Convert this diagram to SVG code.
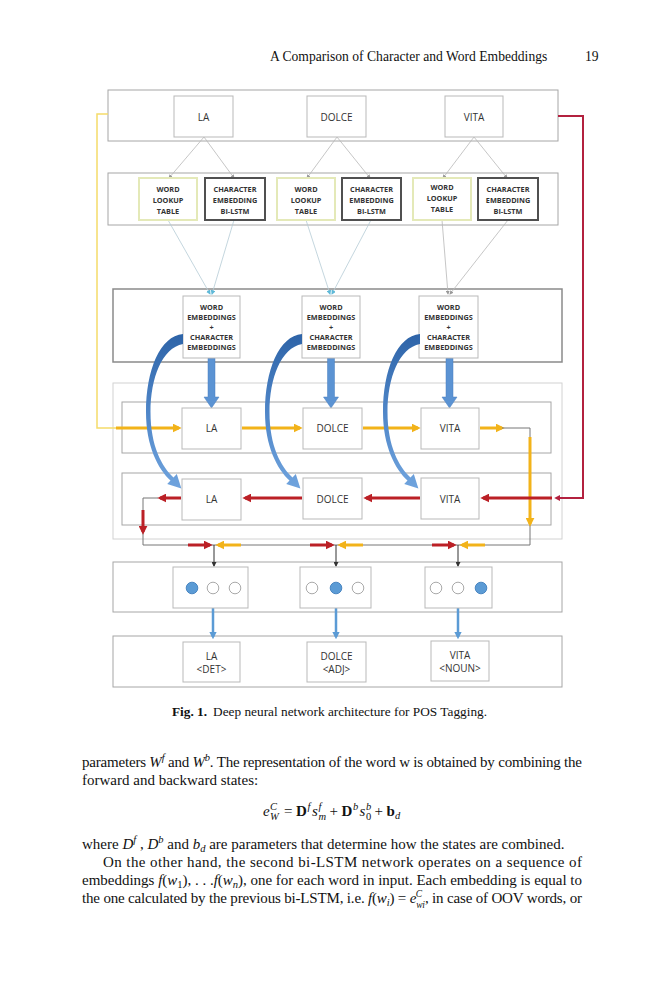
<svg xmlns="http://www.w3.org/2000/svg" width="659" height="1000" viewBox="0 0 659 1000">
<defs>
<style>
.ob{fill:none;stroke:#a6a6a6;stroke-width:1}
.oe{fill:none;stroke:#8a8a8a;stroke-width:1.5}
.ol{fill:none;stroke:#d2d2d2;stroke-width:1}
.ib{fill:#fff;stroke:#b9b9b9;stroke-width:1}
.wl{fill:#fff;stroke:#e4e9b8;stroke-width:2}
.ce{fill:#fff;stroke:#505050;stroke-width:2}
.t{font-family:"Open Sans","DejaVu Sans",sans-serif;font-size:10px;fill:#333;text-anchor:middle}
.s{font-family:"Open Sans","DejaVu Sans",sans-serif;font-size:7.3px;font-weight:bold;fill:#333;text-anchor:middle}
.y{fill:none;stroke:#f2b31a;stroke-width:3;marker-end:url(#ay)}
.r{fill:none;stroke:#bb2026;stroke-width:3;marker-end:url(#ar)}
.g{fill:none;stroke:#777;stroke-width:1}
.k{fill:none;stroke:#333;stroke-width:1;marker-end:url(#ak)}
.bl{fill:none;stroke:#5b9bd5;stroke-width:2.5;marker-end:url(#ab)}
.ln{fill:none;stroke:#b8b8b8;stroke-width:0.8;marker-end:url(#ag)}
.lc{fill:none;stroke:#b5cbd6;stroke-width:0.8;marker-end:url(#ac)}
.sf{font-family:"Liberation Serif","Times New Roman",serif;fill:#111}
.c0{fill:#fff;stroke:#aaa;stroke-width:1}
.c1{fill:#5b9bd5;stroke:#4a86c2;stroke-width:1}
.bd{fill:#5b93d3;stroke:#4a7fbf;stroke-width:0.5}
</style>
<marker id="ay" viewBox="0 0 10 10" refX="7" refY="5" markerWidth="3" markerHeight="3" orient="auto"><path d="M0,0 L10,5 L0,10 Z" fill="#f2b31a"/></marker>
<marker id="ar" viewBox="0 0 10 10" refX="7" refY="5" markerWidth="3" markerHeight="3" orient="auto"><path d="M0,0 L10,5 L0,10 Z" fill="#bb2026"/></marker>
<marker id="acr" viewBox="0 0 10 10" refX="7" refY="5" markerWidth="3" markerHeight="3" orient="auto"><path d="M0,0 L10,5 L0,10 Z" fill="#b3213f"/></marker>
<marker id="ak" viewBox="0 0 10 10" refX="8" refY="5" markerWidth="5" markerHeight="5" orient="auto"><path d="M0,0 L10,5 L0,10 Z" fill="#333"/></marker>
<marker id="ab" viewBox="0 0 10 10" refX="7" refY="5" markerWidth="3" markerHeight="3" orient="auto"><path d="M0,0 L10,5 L0,10 Z" fill="#5b9bd5"/></marker>
<marker id="ag" viewBox="0 0 10 10" refX="8" refY="5" markerWidth="5" markerHeight="5" orient="auto"><path d="M0,0 L10,5 L0,10 Z" fill="#999"/></marker>
<marker id="ac" viewBox="0 0 10 10" refX="8" refY="5" markerWidth="6" markerHeight="6" orient="auto"><path d="M0,0 L10,5 L0,10 Z" fill="#5fb9d8"/></marker>
<linearGradient id="cg" gradientUnits="userSpaceOnUse" x1="0" y1="335" x2="0" y2="490">
<stop offset="0" stop-color="#2e64a8"/><stop offset="0.5" stop-color="#4f86c8"/><stop offset="1" stop-color="#70a4de"/>
</linearGradient>
<path id="curve" d="M183,334 C160,336 146,370 146,412 C146,446 158,469 170.5,480.6 L167.2,484 L181.4,488.5 L176.8,474 L173.5,477.4 C162,467 150.5,446 150.5,412 C150.5,378 162,348 183,344 Z" fill="url(#cg)"/>
</defs>
<rect width="659" height="1000" fill="#fff"/>

<g id="header">
<text class="sf" x="270" y="61" font-size="13.6">A Comparison of Character and Word Embeddings</text>
<text class="sf" x="585" y="61" font-size="13.6">19</text>
</g>

<g id="frames">
<rect class="ob" x="108" y="90" width="450" height="51"/>
<rect class="ob" x="108" y="173" width="450" height="52"/>
<rect class="oe" x="113" y="289" width="449" height="73"/>
<rect class="ol" x="113" y="383" width="449" height="156"/>
<rect class="ob" x="122" y="402" width="429" height="51"/>
<rect class="ob" x="122" y="473" width="429" height="52"/>
<rect class="ob" x="113" y="562" width="449" height="50"/>
<rect class="ob" x="113" y="636" width="449" height="51"/>
</g>

<g id="connectors">
<path class="ln" d="M204,137 L169,178"/>
<path class="ln" d="M204,137 L234,178"/>
<path class="ln" d="M337,137 L307,178"/>
<path class="ln" d="M337,137 L370,178"/>
<path class="ln" d="M474,137 L443,178"/>
<path class="ln" d="M474,137 L507,178"/>
<path class="lc" d="M168,220 L210,294"/>
<path class="lc" d="M234,220 L212,294"/>
<path class="lc" d="M306,220 L330,294"/>
<path class="lc" d="M371,220 L332,294"/>
<path class="ln" d="M442,220 L448,294"/>
<path class="ln" d="M508,220 L450,294"/>
<path class="bd" d="M208,358 V397 H204 L211.5,408 L219,397 H215 V358 Z"/>
<path class="bd" d="M327.5,358 V397 H323.5 L331,408 L338.5,397 H334.5 V358 Z"/>
<path class="bd" d="M446,358 V397 H442 L449.5,408 L457,397 H453 V358 Z"/>
<path fill="none" stroke="#f5dc6a" stroke-width="1.5" d="M108,114 H97 V428 H117"/>
<path class="y" d="M116,428 H179"/>
<path class="y" d="M242,428 H300"/>
<path class="y" d="M363,428 H418"/>
<path class="y" d="M480,428 H502"/>
<path class="g" d="M502,428 H530 V545"/>
<path class="y" d="M530,437 V524"/>
<path fill="none" stroke="#b3213f" stroke-width="2" marker-end="url(#acr)" d="M558,116 H583 V498 H556"/>
<path class="r" d="M552,498 H483"/>
<path class="r" d="M420,498 H366"/>
<path class="r" d="M302,498 H245"/>
<path class="r" d="M181,498 H160"/>
<path class="g" d="M158,498 H143 V545 H530"/>
<path class="r" d="M143,510 V532"/>
<path class="r" d="M188,545 H210"/>
<path class="y" d="M241,545 H218"/>
<path class="r" d="M310,545 H332"/>
<path class="y" d="M363,545 H340"/>
<path class="r" d="M432,545 H454"/>
<path class="y" d="M485,545 H462"/>
<path class="k" d="M214,545 V566"/>
<path class="k" d="M336,545 V566"/>
<path class="k" d="M458,545 V566"/>
<path class="bl" d="M213,608 V637"/>
<path class="bl" d="M336,608 V637"/>
<path class="bl" d="M458,608 V637"/>
</g>

<g id="n-la"><rect class="ib" x="174" y="96" width="59" height="41"/><text class="t" x="203.5" y="120.5">LA</text></g>
<g id="n-dolce"><rect class="ib" x="307" y="96" width="59" height="41"/><text class="t" x="336.5" y="120.5">DOLCE</text></g>
<g id="n-vita"><rect class="ib" x="445" y="96" width="58" height="41"/><text class="t" x="474" y="120.5">VITA</text></g>

<g id="n-wl1"><rect class="wl" x="139" y="178" width="58" height="42"/><text class="s" x="168" y="192">WORD</text><text class="s" x="168" y="203">LOOKUP</text><text class="s" x="168" y="214">TABLE</text></g>
<g id="n-ce1"><rect class="ce" x="205" y="178" width="60" height="42"/><text class="s" x="235" y="192">CHARACTER</text><text class="s" x="235" y="203">EMBEDDING</text><text class="s" x="235" y="214">BI-LSTM</text></g>
<g id="n-wl2"><rect class="wl" x="277" y="178" width="58" height="42"/><text class="s" x="306" y="192">WORD</text><text class="s" x="306" y="203">LOOKUP</text><text class="s" x="306" y="214">TABLE</text></g>
<g id="n-ce2"><rect class="ce" x="342" y="178" width="59" height="42"/><text class="s" x="371.5" y="192">CHARACTER</text><text class="s" x="371.5" y="203">EMBEDDING</text><text class="s" x="371.5" y="214">BI-LSTM</text></g>
<g id="n-wl3"><rect class="wl" x="413" y="178" width="58" height="42"/><text class="s" x="442" y="190">WORD</text><text class="s" x="442" y="201">LOOKUP</text><text class="s" x="442" y="212">TABLE</text></g>
<g id="n-ce3"><rect class="ce" x="478" y="178" width="60" height="42"/><text class="s" x="508" y="192">CHARACTER</text><text class="s" x="508" y="203">EMBEDDING</text><text class="s" x="508" y="214">BI-LSTM</text></g>

<g id="n-emb1"><rect class="ib" x="183" y="296" width="57" height="62"/><text class="s" x="211.5" y="310">WORD</text><text class="s" x="211.5" y="320">EMBEDDINGS</text><text class="s" x="211.5" y="330">+</text><text class="s" x="211.5" y="340">CHARACTER</text><text class="s" x="211.5" y="350">EMBEDDINGS</text></g>
<g id="n-emb2"><rect class="ib" x="302" y="296" width="58" height="62"/><text class="s" x="331" y="310">WORD</text><text class="s" x="331" y="320">EMBEDDINGS</text><text class="s" x="331" y="330">+</text><text class="s" x="331" y="340">CHARACTER</text><text class="s" x="331" y="350">EMBEDDINGS</text></g>
<g id="n-emb3"><rect class="ib" x="419" y="296" width="59" height="62"/><text class="s" x="448.5" y="310">WORD</text><text class="s" x="448.5" y="320">EMBEDDINGS</text><text class="s" x="448.5" y="330">+</text><text class="s" x="448.5" y="340">CHARACTER</text><text class="s" x="448.5" y="350">EMBEDDINGS</text></g>

<g id="n-fla"><rect class="ib" x="182" y="408" width="59" height="41"/><text class="t" x="211.5" y="431.5">LA</text></g>
<g id="n-fdolce"><rect class="ib" x="303" y="408" width="59" height="41"/><text class="t" x="332.5" y="431.5">DOLCE</text></g>
<g id="n-fvita"><rect class="ib" x="421" y="408" width="58" height="41"/><text class="t" x="450" y="431.5">VITA</text></g>
<g id="n-bla"><rect class="ib" x="182" y="479" width="59" height="41"/><text class="t" x="211.5" y="502.5">LA</text></g>
<g id="n-bdolce"><rect class="ib" x="303" y="478" width="59" height="41"/><text class="t" x="332.5" y="502.5">DOLCE</text></g>
<g id="n-bvita"><rect class="ib" x="421" y="478" width="58" height="41"/><text class="t" x="450" y="502.5">VITA</text></g>

<g id="curves">
<use href="#curve"/>
<use href="#curve" transform="translate(119,0)"/>
<use href="#curve" transform="translate(237,0)"/>
</g>

<g id="n-out1"><rect class="ib" x="173" y="567" width="75" height="41"/><circle class="c1" cx="192" cy="588" r="5.8"/><circle class="c0" cx="213" cy="588" r="5.8"/><circle class="c0" cx="235" cy="588" r="5.8"/></g>
<g id="n-out2"><rect class="ib" x="300" y="567" width="71" height="41"/><circle class="c0" cx="312" cy="588" r="5.8"/><circle class="c1" cx="336" cy="588" r="5.8"/><circle class="c0" cx="358" cy="588" r="5.8"/></g>
<g id="n-out3"><rect class="ib" x="425" y="567" width="67" height="41"/><circle class="c0" cx="436" cy="588" r="5.8"/><circle class="c0" cx="458" cy="588" r="5.8"/><circle class="c1" cx="481" cy="588" r="5.8"/></g>

<g id="n-tla"><rect class="ib" x="183" y="642" width="57" height="40"/><text class="t" x="211.5" y="659.5">LA</text><text class="t" x="211.5" y="672.5">&lt;DET&gt;</text></g>
<g id="n-tdolce"><rect class="ib" x="307" y="642" width="59" height="40"/><text class="t" x="336.5" y="659.5">DOLCE</text><text class="t" x="336.5" y="672.5">&lt;ADJ&gt;</text></g>
<g id="n-tvita"><rect class="ib" x="431" y="641" width="58" height="40"/><text class="t" x="460" y="658.5">VITA</text><text class="t" x="460" y="671.5">&lt;NOUN&gt;</text></g>

<g id="caption">
<text class="sf" x="172" y="716" font-size="13.3"><tspan font-weight="bold">Fig. 1.</tspan><tspan dx="6">Deep neural network architecture for POS Tagging.</tspan></text>
</g>

<g id="body">
<text class="sf" x="82" y="767" font-size="15" textLength="500" lengthAdjust="spacing">parameters <tspan font-style="italic">W</tspan><tspan font-size="10.5" font-style="italic" dy="-6">f</tspan><tspan dy="6"> and </tspan><tspan font-style="italic">W</tspan><tspan font-size="10.5" font-style="italic" dy="-6">b</tspan><tspan dy="6">. The representation of the word w is obtained by combining the</tspan></text>
<text class="sf" x="82" y="785" font-size="15">forward and backward states:</text>

<text class="sf" x="263" y="816" font-size="15" font-style="italic">e</text>
<text class="sf" x="270" y="810" font-size="10.5" font-style="italic">C</text>
<text class="sf" x="270" y="820" font-size="10.5" font-style="italic">W</text>
<text class="sf" x="284" y="816" font-size="15">=</text>
<text class="sf" x="296" y="816" font-size="15" font-weight="bold">D</text>
<text class="sf" x="307.5" y="810" font-size="10.5" font-style="italic">f</text>
<text class="sf" x="312" y="816" font-size="15" font-style="italic">s</text>
<text class="sf" x="318.5" y="810" font-size="10.5" font-style="italic">f</text>
<text class="sf" x="318.5" y="820" font-size="10.5" font-style="italic">m</text>
<text class="sf" x="329.5" y="816" font-size="15">+</text>
<text class="sf" x="341.5" y="816" font-size="15" font-weight="bold">D</text>
<text class="sf" x="353" y="810" font-size="10.5" font-style="italic">b</text>
<text class="sf" x="359.5" y="816" font-size="15" font-style="italic">s</text>
<text class="sf" x="366" y="810" font-size="10.5" font-style="italic">b</text>
<text class="sf" x="366" y="820" font-size="10.5">0</text>
<text class="sf" x="374.5" y="816" font-size="15">+</text>
<text class="sf" x="386.5" y="816" font-size="15" font-weight="bold">b</text>
<text class="sf" x="395" y="819" font-size="10.5" font-style="italic">d</text>

<text class="sf" x="82" y="849" font-size="15">where <tspan font-style="italic">D</tspan><tspan font-size="10.5" font-style="italic" dy="-6">f</tspan><tspan dy="6"> , </tspan><tspan font-style="italic">D</tspan><tspan font-size="10.5" font-style="italic" dy="-6">b</tspan><tspan dy="6"> and </tspan><tspan font-style="italic">b</tspan><tspan font-size="10.5" font-style="italic" dy="3">d</tspan><tspan dy="-3"> are parameters that determine how the states are combined.</tspan></text>
<text class="sf" x="103" y="867" font-size="15" textLength="479" lengthAdjust="spacing">On the other hand, the second bi-LSTM network operates on a sequence of</text>
<text class="sf" x="82" y="885" font-size="15" textLength="500" lengthAdjust="spacing">embeddings <tspan font-style="italic">f</tspan>(<tspan font-style="italic">w</tspan><tspan font-size="10.5" dy="3">1</tspan><tspan dy="-3">), . . .</tspan><tspan font-style="italic">f</tspan>(<tspan font-style="italic">w</tspan><tspan font-size="10.5" font-style="italic" dy="3">n</tspan><tspan dy="-3">), one for each word in input. Each embedding is equal to</tspan></text>
<text class="sf" x="82" y="903" font-size="15" textLength="500" lengthAdjust="spacing">the one calculated by the previous bi-LSTM, i.e. <tspan font-style="italic">f</tspan>(<tspan font-style="italic">w</tspan><tspan font-size="10.5" font-style="italic" dy="3">i</tspan><tspan dy="-3">) = </tspan><tspan font-style="italic">e</tspan><tspan font-size="9.5" font-style="italic" dy="4.5">wi</tspan><tspan font-size="9.5" font-style="italic" dx="-9" dy="-11">C</tspan><tspan dx="3" dy="6.5">, in case of OOV words, or</tspan></text>
</g>
</svg>
